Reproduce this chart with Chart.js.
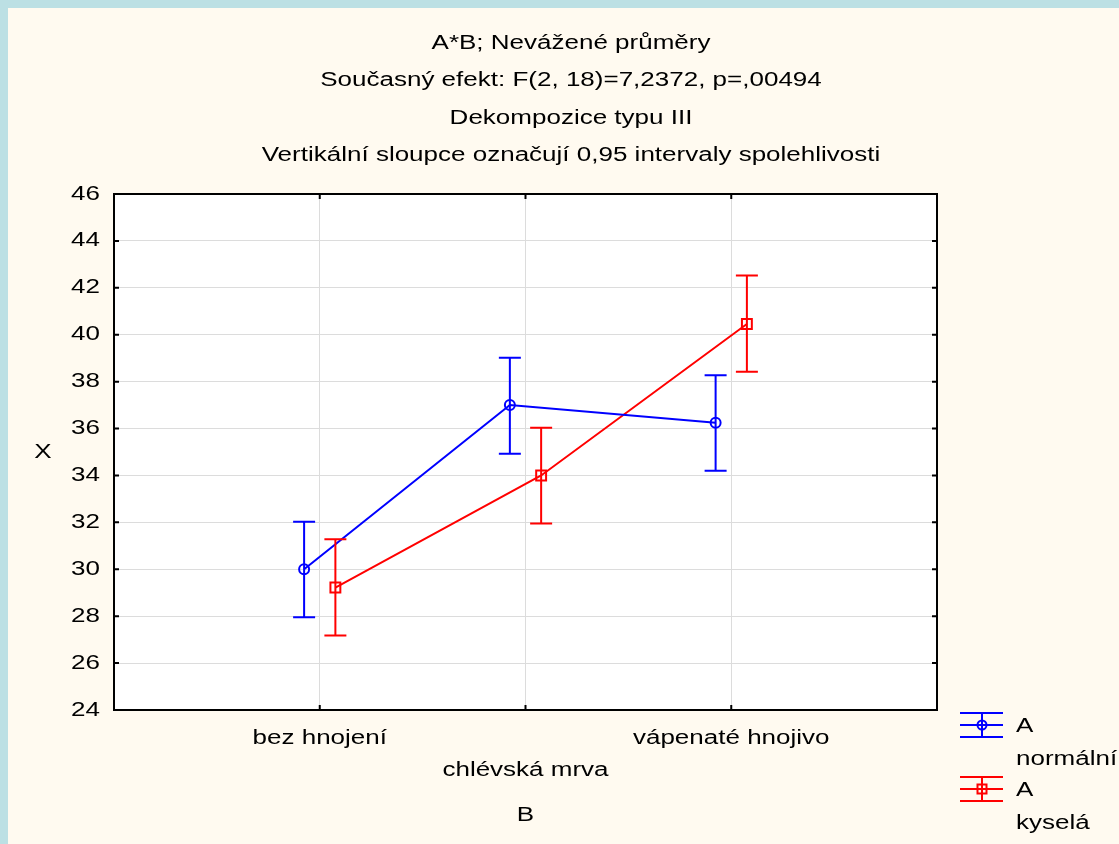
<!DOCTYPE html>
<html>
<head>
<meta charset="utf-8">
<title>A*B; Nevážené průměry</title>
<script src="https://cdn.jsdelivr.net/npm/chart.js@4.4.1/dist/chart.umd.min.js"></script>
<style>
  html, body { margin: 0; padding: 0; background: #bce0e4; }
  body { width: 1119px; height: 844px; position: relative; overflow: hidden; }
  #panel { position: absolute; left: 8px; top: 8px; width: 1111px; height: 836px; background: #fffaf0; }
  canvas { display: block; }
</style>
</head>
<body>
<div id="panel"><canvas id="chart" width="1111" height="836"></canvas></div>
<script>
// categories of factor B
const categories = ['bez hnojení', 'chlévská mrva', 'vápenaté hnojivo'];

// A normální: means and 0,95 confidence limits
const normalMean = [30.0, 37.0, 36.25];
const normalLow = [27.95, 34.93, 34.2];
const normalHigh = [32.03, 39.02, 38.27];

// A kyselá: means and 0,95 confidence limits
const acidMean = [29.22, 34.0, 40.46];
const acidLow = [27.18, 31.95, 38.42];
const acidHigh = [31.28, 36.03, 42.53];

const seriesLabels = [['A', 'normální'], ['A', 'kyselá']];
const titleLines = [
  'A*B; Nevážené průměry',
  'Současný efekt: F(2, 18)=7,2372, p=,00494',
  'Dekompozice typu III',
  'Vertikální sloupce označují 0,95 intervaly spolehlivosti'
];
const yTitle = 'X';
const xTitle = 'B';

const BLUE = '#0000ff';
const RED = '#ff0000';
const GRID = '#dcdcdc';
const FONT = '"Liberation Sans", Arial, sans-serif';
const SX = 1.3;      // Statistica text is drawn wide
const SHIFT = 0.076; // horizontal dodge of the two series

Chart.defaults.font.family = FONT;
Chart.defaults.font.size = 20;
Chart.defaults.color = '#000';

function toPoints(mean, low, high, dx) {
  return mean.map((m, i) => ({ x: i + 1 + dx, y: m, lo: low[i], hi: high[i] }));
}

// stretch all text horizontally (fillText + measureText on this context only)
const canvas = document.getElementById('chart');
const ctx = canvas.getContext('2d');
const rawFill = ctx.fillText.bind(ctx);
const rawMeasure = ctx.measureText.bind(ctx);
ctx.fillText = function (text, x, y, maxWidth) {
  this.save();
  this.translate(x, y);
  this.scale(SX, 1);
  if (maxWidth === undefined) rawFill(text, 0, 0);
  else rawFill(text, 0, 0, maxWidth / SX);
  this.restore();
};
ctx.measureText = function (text) {
  const m = rawMeasure(text);
  return {
    width: m.width * SX,
    actualBoundingBoxAscent: m.actualBoundingBoxAscent,
    actualBoundingBoxDescent: m.actualBoundingBoxDescent
  };
};

// white plot area, black frame and inward tick marks
const frame = {
  id: 'frame',
  beforeDraw(chart) {
    const { ctx, chartArea: a } = chart;
    ctx.save();
    ctx.fillStyle = '#fff';
    ctx.fillRect(a.left, a.top, a.width, a.height);
    ctx.restore();
  },
  beforeDatasetsDraw(chart) {
    const { ctx, chartArea: a, scales: { x, y } } = chart;
    ctx.save();
    ctx.strokeStyle = '#000';
    ctx.lineWidth = 2;
    ctx.strokeRect(a.left, a.top, a.width, a.height);
    ctx.beginPath();
    y.ticks.forEach(t => {
      const py = y.getPixelForValue(t.value);
      ctx.moveTo(a.left, py); ctx.lineTo(a.left + 5, py);
      ctx.moveTo(a.right, py); ctx.lineTo(a.right - 5, py);
    });
    x.ticks.forEach(t => {
      const px = x.getPixelForValue(t.value);
      ctx.moveTo(px, a.bottom); ctx.lineTo(px, a.bottom - 5);
      ctx.moveTo(px, a.top); ctx.lineTo(px, a.top + 5);
    });
    ctx.stroke();
    ctx.restore();
  }
};

// vertical confidence interval bars
const errorBars = {
  id: 'errorBars',
  afterDatasetsDraw(chart) {
    const { ctx, scales: { x, y } } = chart;
    chart.data.datasets.forEach(ds => {
      ctx.save();
      ctx.strokeStyle = ds.borderColor;
      ctx.lineWidth = 2;
      ctx.beginPath();
      ds.data.forEach(p => {
        const px = x.getPixelForValue(p.x);
        const top = y.getPixelForValue(p.hi);
        const bot = y.getPixelForValue(p.lo);
        ctx.moveTo(px, top); ctx.lineTo(px, bot);
        ctx.moveTo(px - 11, top); ctx.lineTo(px + 11, top);
        ctx.moveTo(px - 11, bot); ctx.lineTo(px + 11, bot);
      });
      ctx.stroke();
      ctx.restore();
    });
  }
};

// titles above the plot, y-axis caption and the legend at bottom right
const texts = {
  id: 'texts',
  afterDraw(chart) {
    const { ctx, chartArea: a } = chart;
    ctx.save();
    ctx.font = '20px ' + FONT;
    ctx.fillStyle = '#000';
    ctx.textBaseline = 'middle';
    ctx.textAlign = 'center';
    titleLines.forEach((t, i) => ctx.fillText(t, 563, 35 + i * 37.6));
    ctx.fillText(yTitle, 35, (a.top + a.bottom) / 2);

    const iconX = 974, textX = 1008;
    const rows = [717, 781];
    ctx.textAlign = 'left';
    chart.data.datasets.forEach((ds, i) => {
      const cy = rows[i];
      ctx.strokeStyle = ds.borderColor;
      ctx.lineWidth = 2;
      ctx.beginPath();
      [-12, 0, 12].forEach(d => { ctx.moveTo(iconX - 22, cy + d); ctx.lineTo(iconX + 21, cy + d); });
      ctx.moveTo(iconX, cy - 12); ctx.lineTo(iconX, cy + 12);
      ctx.stroke();
      ctx.beginPath();
      if (ds.pointStyle === 'circle') ctx.arc(iconX, cy, 4.5, 0, Math.PI * 2);
      else ctx.rect(iconX - 4.5, cy - 4.5, 9, 9);
      ctx.stroke();
      ctx.fillText(ds.label[0], textX, cy + 1);
      ctx.fillText(ds.label[1], textX, cy + 34);
    });
    ctx.restore();
  }
};

new Chart(canvas, {
  type: 'line',
  data: {
    datasets: [
      {
        label: seriesLabels[0],
        data: toPoints(normalMean, normalLow, normalHigh, -SHIFT),
        borderColor: BLUE,
        borderWidth: 2,
        pointStyle: 'circle',
        pointRadius: 5,
        pointBorderWidth: 2,
        pointBackgroundColor: 'rgba(0,0,0,0)',
        pointBorderColor: BLUE,
        tension: 0
      },
      {
        label: seriesLabels[1],
        data: toPoints(acidMean, acidLow, acidHigh, SHIFT),
        borderColor: RED,
        borderWidth: 2,
        pointStyle: 'rect',
        pointRadius: 7,
        pointBorderWidth: 2,
        pointBackgroundColor: 'rgba(0,0,0,0)',
        pointBorderColor: RED,
        tension: 0
      }
    ]
  },
  options: {
    responsive: false,
    animation: false,
    layout: { padding: { left: 10, right: 182, top: 186, bottom: 0 } },
    plugins: {
      legend: { display: false },
      tooltip: { enabled: false },
      title: { display: false }
    },
    scales: {
      x: {
        type: 'linear',
        min: 0,
        max: 4,
        afterBuildTicks: s => { s.ticks = categories.map((c, i) => ({ value: i + 1 })); },
        afterFit: s => { s.height = 134; },
        ticks: {
          callback: v => (v === 2 ? ['', categories[v - 1]] : categories[v - 1]),
          padding: 12,
          maxRotation: 0,
          autoSkip: false,
          font: { size: 20, lineHeight: 1.6 }
        },
        grid: { color: GRID, lineWidth: 1, drawTicks: false },
        border: { display: false },
        title: { display: true, text: xTitle, font: { size: 20 }, padding: { top: 0, bottom: 17 } }
      },
      y: {
        min: 24,
        max: 46,
        afterFit: s => { s.width = 96; },
        ticks: { stepSize: 2, padding: 14, font: { size: 20 } },
        grid: { color: GRID, lineWidth: 1, drawTicks: false },
        border: { display: false },
        title: { display: false }
      }
    }
  },
  plugins: [frame, errorBars, texts]
});
</script>
</body>
</html>
